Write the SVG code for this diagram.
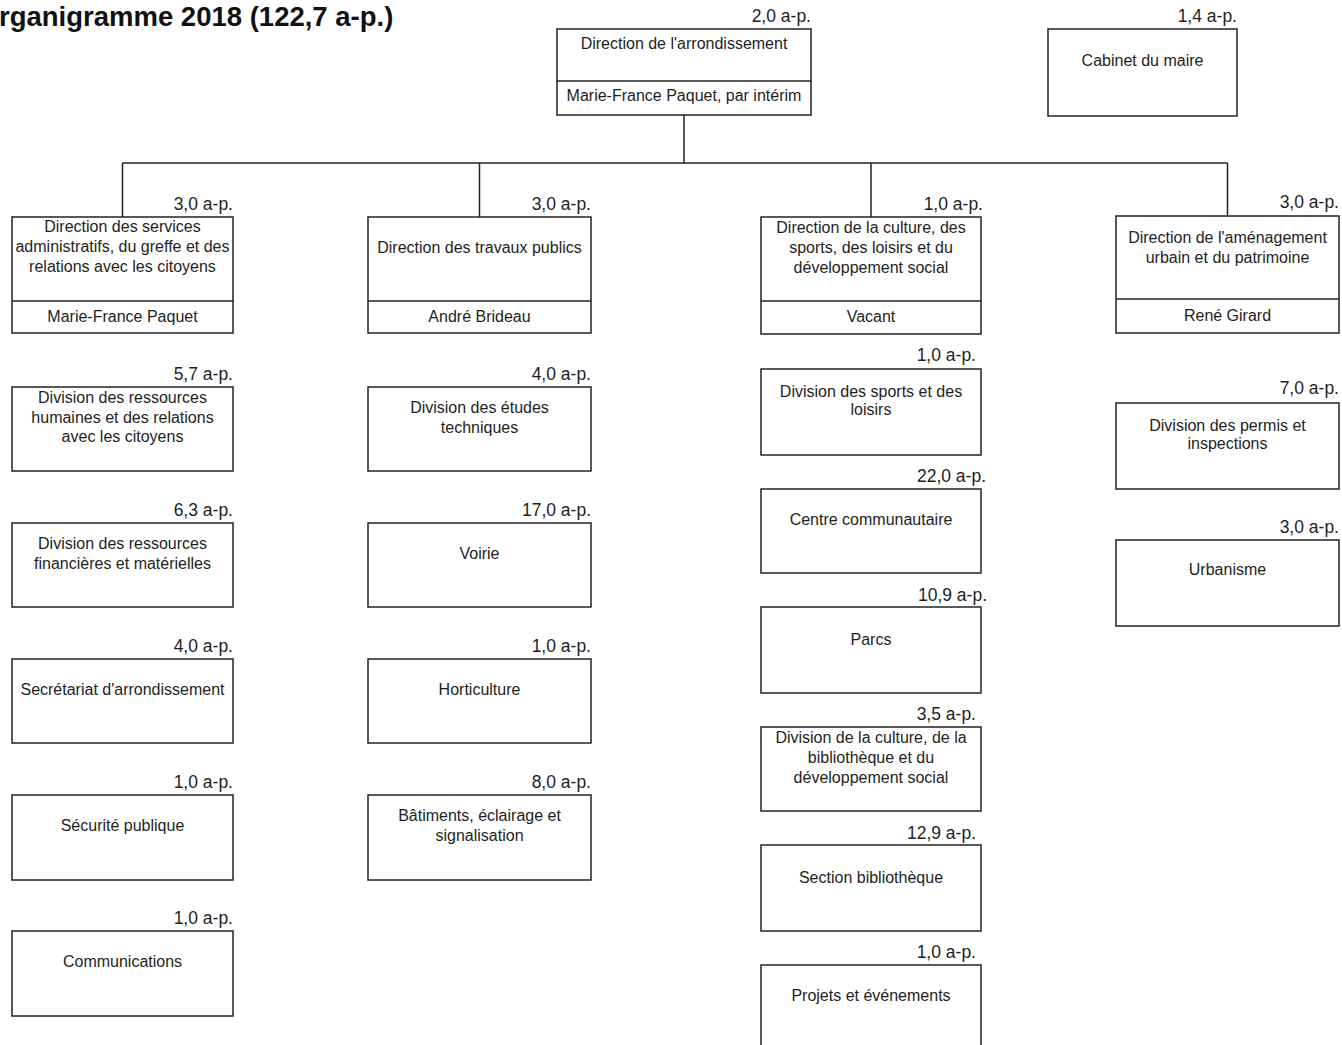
<svg xmlns="http://www.w3.org/2000/svg" width="1342" height="1045" viewBox="0 0 1342 1045">
<style>
.bx{fill:#fff;stroke:#222;stroke-width:1.5}
.dv{stroke:#222;stroke-width:1.5}
.cn{fill:none;stroke:#222;stroke-width:1.5}
.t{font-family:"Liberation Sans",Arial,sans-serif;font-size:16px;fill:#1e1e1e;text-anchor:middle}
.l{font-family:"Liberation Sans",Arial,sans-serif;font-size:17.5px;fill:#1e1e1e;text-anchor:end}
.title{font-family:"Liberation Sans",Arial,sans-serif;font-size:27.5px;font-weight:bold;fill:#111}
</style>
<rect width="1342" height="1045" fill="#fff"/>
<text class="title" x="-1" y="26">rganigramme 2018 (122,7 a-p.)</text>

<g id="connectors">
<path class="cn" d="M684 115V163M122.5 163H1227.5M122.5 163V217M479.5 163V217M871 163V217M1227.5 163V216"/>
</g>

<g id="n-direction">
<rect class="bx" x="557" y="29" width="254" height="86"/>
<line class="dv" x1="557" y1="81" x2="811" y2="81"/>
<text class="t" x="684" y="49">Direction de l'arrondissement</text>
<text class="t" x="684" y="101">Marie-France Paquet, par intérim</text>
<text class="l" x="811" y="22">2,0 a-p.</text>
</g>

<g id="n-cabinet">
<rect class="bx" x="1048" y="29" width="189" height="87"/>
<text class="t" x="1142.5" y="66">Cabinet du maire</text>
<text class="l" x="1237" y="22">1,4 a-p.</text>
</g>

<!-- Column 1 -->
<g id="n-dsa">
<rect class="bx" x="12" y="217" width="221" height="116"/>
<line class="dv" x1="12" y1="301" x2="233" y2="301"/>
<text class="t" x="122.5" y="232">Direction des services</text>
<text class="t" x="122.5" y="252">administratifs, du greffe et des</text>
<text class="t" x="122.5" y="272">relations avec les citoyens</text>
<text class="t" x="122.5" y="322">Marie-France Paquet</text>
<text class="l" x="233" y="210">3,0 a-p.</text>
</g>
<g id="n-rh">
<rect class="bx" x="12" y="387" width="221" height="84"/>
<text class="t" x="122.5" y="403">Division des ressources</text>
<text class="t" x="122.5" y="423">humaines et des relations</text>
<text class="t" x="122.5" y="442">avec les citoyens</text>
<text class="l" x="233" y="380">5,7 a-p.</text>
</g>
<g id="n-rf">
<rect class="bx" x="12" y="523" width="221" height="84"/>
<text class="t" x="122.5" y="549">Division des ressources</text>
<text class="t" x="122.5" y="569">financières et matérielles</text>
<text class="l" x="233" y="516">6,3 a-p.</text>
</g>
<g id="n-secr">
<rect class="bx" x="12" y="659" width="221" height="84"/>
<text class="t" x="122.5" y="695">Secrétariat d'arrondissement</text>
<text class="l" x="233" y="652">4,0 a-p.</text>
</g>
<g id="n-secu">
<rect class="bx" x="12" y="795" width="221" height="85"/>
<text class="t" x="122.5" y="831">Sécurité publique</text>
<text class="l" x="233" y="788">1,0 a-p.</text>
</g>
<g id="n-comm">
<rect class="bx" x="12" y="931" width="221" height="85"/>
<text class="t" x="122.5" y="967">Communications</text>
<text class="l" x="233" y="924">1,0 a-p.</text>
</g>

<!-- Column 2 -->
<g id="n-dtp">
<rect class="bx" x="368" y="217" width="223" height="116"/>
<line class="dv" x1="368" y1="301" x2="591" y2="301"/>
<text class="t" x="479.5" y="253">Direction des travaux publics</text>
<text class="t" x="479.5" y="322">André Brideau</text>
<text class="l" x="591" y="210">3,0 a-p.</text>
</g>
<g id="n-etudes">
<rect class="bx" x="368" y="387" width="223" height="84"/>
<text class="t" x="479.5" y="413">Division des études</text>
<text class="t" x="479.5" y="433">techniques</text>
<text class="l" x="591" y="380">4,0 a-p.</text>
</g>
<g id="n-voirie">
<rect class="bx" x="368" y="523" width="223" height="84"/>
<text class="t" x="479.5" y="559">Voirie</text>
<text class="l" x="591" y="516">17,0 a-p.</text>
</g>
<g id="n-horti">
<rect class="bx" x="368" y="659" width="223" height="84"/>
<text class="t" x="479.5" y="695">Horticulture</text>
<text class="l" x="591" y="652">1,0 a-p.</text>
</g>
<g id="n-bat">
<rect class="bx" x="368" y="795" width="223" height="85"/>
<text class="t" x="479.5" y="821">Bâtiments, éclairage et</text>
<text class="t" x="479.5" y="841">signalisation</text>
<text class="l" x="591" y="788">8,0 a-p.</text>
</g>

<!-- Column 3 -->
<g id="n-dcs">
<rect class="bx" x="761" y="217" width="220" height="117"/>
<line class="dv" x1="761" y1="301" x2="981" y2="301"/>
<text class="t" x="871" y="233">Direction de la culture, des</text>
<text class="t" x="871" y="253">sports, des loisirs et du</text>
<text class="t" x="871" y="273">développement social</text>
<text class="t" x="871" y="322">Vacant</text>
<text class="l" x="983" y="210">1,0 a-p.</text>
</g>
<g id="n-sports">
<rect class="bx" x="761" y="369" width="220" height="86"/>
<text class="t" x="871" y="397">Division des sports et des</text>
<text class="t" x="871" y="415">loisirs</text>
<text class="l" x="976" y="361">1,0 a-p.</text>
</g>
<g id="n-centre">
<rect class="bx" x="761" y="489" width="220" height="84"/>
<text class="t" x="871" y="525">Centre communautaire</text>
<text class="l" x="986" y="482">22,0 a-p.</text>
</g>
<g id="n-parcs">
<rect class="bx" x="761" y="607" width="220" height="86"/>
<text class="t" x="871" y="645">Parcs</text>
<text class="l" x="987" y="601">10,9 a-p.</text>
</g>
<g id="n-culture">
<rect class="bx" x="761" y="727" width="220" height="84"/>
<text class="t" x="871" y="743">Division de la culture, de la</text>
<text class="t" x="871" y="763">bibliothèque et du</text>
<text class="t" x="871" y="783">développement social</text>
<text class="l" x="976" y="720">3,5 a-p.</text>
</g>
<g id="n-biblio">
<rect class="bx" x="761" y="845" width="220" height="86"/>
<text class="t" x="871" y="883">Section bibliothèque</text>
<text class="l" x="976" y="839">12,9 a-p.</text>
</g>
<g id="n-projets">
<rect class="bx" x="761" y="965" width="220" height="90"/>
<text class="t" x="871" y="1001">Projets et événements</text>
<text class="l" x="976" y="958">1,0 a-p.</text>
</g>

<!-- Column 4 -->
<g id="n-dau">
<rect class="bx" x="1116" y="216" width="223" height="117"/>
<line class="dv" x1="1116" y1="299" x2="1339" y2="299"/>
<text class="t" x="1227.5" y="243">Direction de l'aménagement</text>
<text class="t" x="1227.5" y="263">urbain et du patrimoine</text>
<text class="t" x="1227.5" y="321">René Girard</text>
<text class="l" x="1339" y="208">3,0 a-p.</text>
</g>
<g id="n-permis">
<rect class="bx" x="1116" y="403" width="223" height="86"/>
<text class="t" x="1227.5" y="431">Division des permis et</text>
<text class="t" x="1227.5" y="449">inspections</text>
<text class="l" x="1339" y="394">7,0 a-p.</text>
</g>
<g id="n-urba">
<rect class="bx" x="1116" y="540" width="223" height="86"/>
<text class="t" x="1227.5" y="575">Urbanisme</text>
<text class="l" x="1339" y="533">3,0 a-p.</text>
</g>
</svg>
